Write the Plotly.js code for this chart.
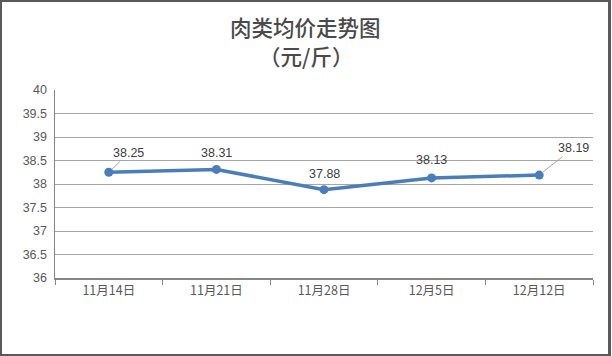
<!DOCTYPE html>
<html>
<head>
<meta charset="utf-8">
<script src="https://cdn.plot.ly/plotly-3.0.1.min.js"></script>
<style>
html,body{margin:0;padding:0;background:#fff;}
#wrap{position:relative;width:612px;height:356px;}
#chart{width:612px;height:356px;}
#frame{position:absolute;left:0;top:0;width:606px;height:352px;border:2px solid #595959;border-right-width:3px;pointer-events:none;}
</style>
</head>
<body>
<div id="wrap"><div id="chart"></div><div id="frame"></div></div>
<script>
const categories = ['11月14日', '11月21日', '11月28日', '12月5日', '12月12日'];
const prices = [38.25, 38.31, 37.88, 38.13, 38.19];
const yTicks = [36, 36.5, 37, 37.5, 38, 38.5, 39, 39.5, 40];
const titleLines = ['肉类均价走势图', '（元/斤）'];
const labelOffsets = [[20, -19], [0, -16], [0, -16], [0, -18], [34, -27]];

const trace = {
  x: categories,
  y: prices,
  type: 'scatter',
  mode: 'lines+markers',
  line: {color: '#4A7EBB', width: 3.5},
  marker: {color: '#4A7EBB', size: 9},
  hoverinfo: 'none'
};

const annotations = prices.map((v, i) => {
  const off = labelOffsets[i];
  const lead = off[0] !== 0;
  return {
    x: categories[i], y: v, xref: 'x', yref: 'y',
    text: v.toFixed(2),
    showarrow: lead, arrowhead: 0, arrowwidth: 1, arrowcolor: '#A6A6A6',
    ax: off[0], ay: off[1], standoff: 4,
    yshift: lead ? 0 : -off[1],
    font: {family: 'Liberation Sans, Arial, sans-serif', size: 12.5, color: '#404040'}
  };
});

// title lines placed in paper coords (plot area: x 55..593, y 90..278)
const titleY = [1.3404, 1.1809];
titleLines.forEach((t, i) => {
  annotations.push({
    text: t, xref: 'paper', yref: 'paper', x: 0.4665, y: titleY[i],
    xanchor: 'center', yanchor: 'middle', showarrow: false, borderpad: 0,
    font: {family: 'Noto Sans CJK SC, sans-serif', size: 21.5, color: '#4A4A4A', weight: 500}
  });
});

const layout = {
  width: 612, height: 356,
  margin: {l: 55, r: 19, t: 90, b: 78},
  paper_bgcolor: '#fff', plot_bgcolor: '#fff',
  showlegend: false,
  xaxis: {
    type: 'category',
    range: [-0.5, 4.5],
    tickson: 'boundaries',
    ticks: 'outside', ticklen: 5, tickcolor: '#868686', tickwidth: 1,
    showline: true, linecolor: '#868686', linewidth: 1.5,
    showgrid: false, zeroline: false,
    tickfont: {family: 'Noto Sans CJK SC, sans-serif', size: 12.5, color: '#595959'}
  },
  yaxis: {
    range: [36, 40],
    tickvals: yTicks,
    ticktext: yTicks.map(String),
    showline: true, linecolor: '#868686', linewidth: 1.5,
    showgrid: true, gridcolor: '#A6A6A6', gridwidth: 1,
    zeroline: false, ticks: '',
    ticklabelstandoff: 4,
    tickfont: {family: 'Liberation Sans, Arial, sans-serif', size: 12.5, color: '#595959'}
  },
  annotations: annotations
};

Plotly.newPlot('chart', [trace], layout, {staticPlot: true, displayModeBar: false});
</script>
</body>
</html>
